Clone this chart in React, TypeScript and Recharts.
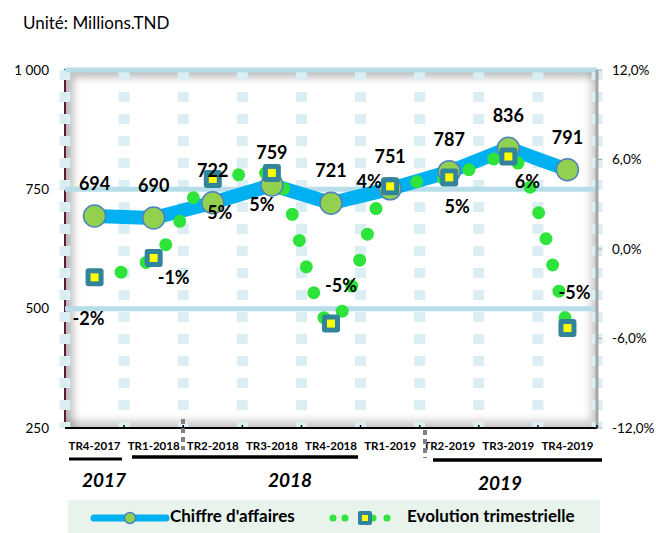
import React from 'react';
import { ComposedChart, Line, XAxis, YAxis, CartesianGrid, ReferenceLine } from 'recharts';

document.body.style.margin = '0';

const quarters = ['TR4-2017', 'TR1-2018', 'TR2-2018', 'TR3-2018', 'TR4-2018', 'TR1-2019', 'TR2-2019', 'TR3-2019', 'TR4-2019'];
const revenue = [694, 690, 722, 759, 721, 751, 787, 836, 791];
const evolution = [-0.019, -0.006, 0.047, 0.051, -0.05, 0.042, 0.048, 0.062, -0.053];
const leftTicks = [250, 500, 750, 1000];
const rightTicks = [-0.12, -0.06, 0, 0.06, 0.12];

// manual placement of the % labels, as in the source sheet
const pctLabelOffsets = [
    [-6, 41], [20, 19], [7, 33], [-10, 31], [10, -39], [-21, -5], [8, 29], [19, 24], [7, -36],
];

const data = quarters.map((q, i) => ({ q, ca: revenue[i], evo: evolution[i] }));

const FONT = 'Lato, "Open Sans", sans-serif';
const PLOT_W = 532;
const HALF_BAND = PLOT_W / quarters.length / 2;

const fmtLeft = (v: number) => (v >= 1000 ? '1 000' : String(v));
const fmtRight = (v: number) => (v * 100).toFixed(1).replace('.', ',') + '%';

function QuarterTick(props: any) {
    const { x, y, payload } = props;
    return (
        <g>
            <line x1={x + HALF_BAND} x2={x + HALF_BAND} y1={y - 3} y2={y} stroke="#000" strokeWidth={1.5} />
            <text x={x} y={y + 17} textAnchor="middle" dominantBaseline="central" fontSize={11.5} fontWeight={700} fill="#000" fontFamily={FONT}>
                {payload.value}
            </text>
        </g>
    );
}

function RevenueDot(props: any) {
    const { cx, cy } = props;
    if (cx == null || cy == null) return null;
    return <circle cx={cx} cy={cy} r={11} fill="#92d050" stroke="#4f81bd" strokeWidth={1.5} />;
}

function RevenueLabel(props: any) {
    const { x, y, value } = props;
    return (
        <text x={x} y={y - 33} textAnchor="middle" dominantBaseline="central" fontSize={18} fontWeight={700} fill="#000" fontFamily={FONT}>
            {value}
        </text>
    );
}

function SquareDot(props: any) {
    const { cx, cy } = props;
    if (cx == null || cy == null) return null;
    return (
        <g>
            <rect x={cx - 9} y={cy - 9} width={18} height={18} rx={3} fill="#31849b" />
            <rect x={cx - 4} y={cy - 4} width={8} height={8} fill="#ffff00" />
        </g>
    );
}

function PctLabel(props: any) {
    const { x, y, value, index } = props;
    const [dx, dy] = pctLabelOffsets[index] || [0, 0];
    return (
        <text x={x + dx} y={y + dy} textAnchor="middle" dominantBaseline="central" fontSize={18} fontWeight={700} fill="#000" fontFamily={FONT}>
            {Math.round(value * 100) + '%'}
        </text>
    );
}

export default function App() {
    return (
        <div style={{ position: 'relative', width: 656, height: 533, fontFamily: FONT, background: '#fff' }}>
            <div style={{ position: 'absolute', left: 23, top: 12, fontSize: 17, color: '#000' }}>Unité: Millions.TND</div>
            {/* bevelled plot area */}
            <div
                style={{
                    position: 'absolute', left: 64, top: 69, width: 533, height: 359, background: '#fff',
                    borderLeft: '2px solid #5c1a33', borderTop: '2px solid #5c1a33', boxSizing: 'border-box',
                    boxShadow: 'inset 7px 6px 9px rgba(0,0,0,0.28), inset -6px -7px 9px rgba(0,0,0,0.22)',
                }}
            />
            <ComposedChart width={656} height={533} data={data} margin={{ top: 70, right: 10, left: 10, bottom: 70 }}>
                <CartesianGrid
                    horizontal={false}
                    stroke="#daeef3"
                    strokeWidth={11}
                    strokeDasharray="10 12"
                    verticalCoordinatesGenerator={({ offset }: any) =>
                        Array.from({ length: quarters.length + 1 }, (_, i) => offset.left + (i * offset.width) / quarters.length)
                    }
                />
                <XAxis dataKey="q" height={35} padding={{ left: HALF_BAND, right: HALF_BAND }} tick={<QuarterTick />} tickLine={false} tickSize={0} tickMargin={0}
                    axisLine={{ stroke: '#000', strokeWidth: 2 }} interval={0} />
                <YAxis yAxisId="left" width={55} domain={[250, 1000]} ticks={leftTicks} tickFormatter={fmtLeft} axisLine={false} tickLine={false} tickMargin={10}
                    tick={{ fontSize: 13.5, fill: '#000', fontFamily: FONT }} />
                <YAxis yAxisId="right" orientation="right" width={49} domain={[-0.12, 0.12]} ticks={rightTicks} tickFormatter={fmtRight}
                    axisLine={{ stroke: '#a6a6a6', strokeWidth: 3 }} tickLine={{ stroke: '#a6a6a6' }} tickSize={5} tickMargin={10}
                    tick={{ fontSize: 13.5, fill: '#000', fontFamily: FONT }} />
                <ReferenceLine yAxisId="left" y={1000} stroke="#b7dde8" strokeWidth={5} />
                <ReferenceLine yAxisId="left" y={750} stroke="#b7dde8" strokeWidth={5} />
                <ReferenceLine yAxisId="left" y={500} stroke="#b7dde8" strokeWidth={5} />
                <Line yAxisId="left" dataKey="ca" type="linear" stroke="#00b0f0" strokeWidth={14} strokeLinejoin="round"
                    dot={<RevenueDot />} activeDot={false} label={<RevenueLabel />} isAnimationActive={false} />
                <Line yAxisId="right" dataKey="evo" type="monotone" stroke="#2ee33a" strokeWidth={13} strokeLinecap="round" strokeDasharray="0 27"
                    dot={<SquareDot />} activeDot={false} label={<PctLabel />} isAnimationActive={false} />
            </ComposedChart>
            {/* year brackets under the quarter labels */}
            <svg width={656} height={533} style={{ position: 'absolute', left: 0, top: 0, pointerEvents: 'none' }}>
                <line x1={183} x2={183} y1={419} y2={450} stroke="#808080" strokeWidth={4} strokeDasharray="5 4" />
                <line x1={425} x2={425} y1={430} y2={458} stroke="#808080" strokeWidth={4} strokeDasharray="5 4" />
                <line x1={69} x2={122} y1={459} y2={459} stroke="#000" strokeWidth={3} />
                <line x1={132} x2={358} y1={457} y2={457} stroke="#000" strokeWidth={3.5} />
                <line x1={433} x2={602} y1={460} y2={460} stroke="#000" strokeWidth={3.5} />
                <g fontFamily={FONT} fontWeight={700} fontStyle="italic" fontSize={19} fill="#000" textAnchor="middle">
                    <text x={104} y={479} dominantBaseline="central">2017</text>
                    <text x={290} y={479} dominantBaseline="central">2018</text>
                    <text x={500} y={482} dominantBaseline="central">2019</text>
                </g>
            </svg>
            {/* legend */}
            <div style={{ position: 'absolute', left: 68, top: 500, width: 532, height: 33, background: '#e8f3ec', fontSize: 17, fontWeight: 700, color: '#000' }}>
                <svg width={80} height={20} style={{ position: 'absolute', left: 22, top: 8 }}>
                    <line x1={4} x2={76} y1={10} y2={10} stroke="#00b0f0" strokeWidth={7} strokeLinecap="round" />
                    <circle cx={40} cy={10} r={5.5} fill="#92d050" stroke="#4f81bd" strokeWidth={1.5} />
                </svg>
                <span style={{ position: 'absolute', left: 102, top: 5 }}>Chiffre d'affaires</span>
                <svg width={66} height={20} style={{ position: 'absolute', left: 259, top: 8 }}>
                    <circle cx={6} cy={10} r={3.5} fill="#2ee33a" />
                    <circle cx={18} cy={10} r={3.5} fill="#2ee33a" />
                    <circle cx={46} cy={10} r={3.5} fill="#2ee33a" />
                    <circle cx={60} cy={10} r={3.5} fill="#2ee33a" />
                    <rect x={31} y={3} width={14} height={14} rx={2} fill="#31849b" />
                    <rect x={35} y={7} width={6} height={6} fill="#ffff00" />
                </svg>
                <span style={{ position: 'absolute', left: 339, top: 5 }}>Evolution trimestrielle</span>
            </div>
        </div>
    );
}
